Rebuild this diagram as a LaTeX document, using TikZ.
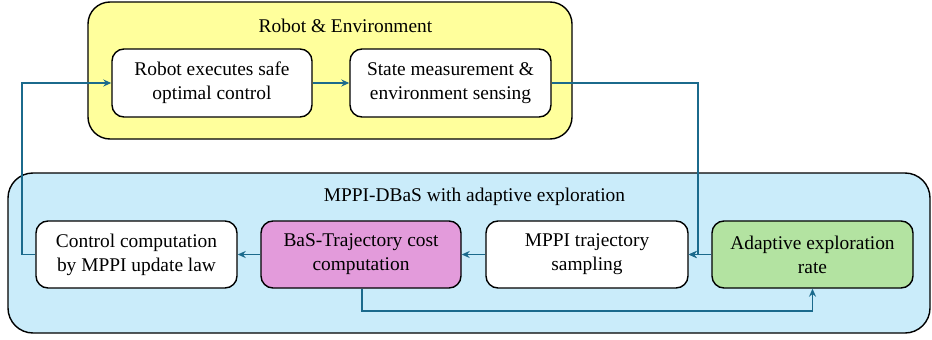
\documentclass[tikz,border=0pt]{standalone}
\usepackage{fontspec}
\setmainfont{Liberation Serif}
\usetikzlibrary{arrows.meta}
\definecolor{envyellow}{HTML}{FFFF9C}
\definecolor{ctrlblue}{HTML}{CAECFA}
\definecolor{costpink}{HTML}{E39BDB}
\definecolor{rategreen}{HTML}{B3E3A1}
\definecolor{flowline}{HTML}{1B6A8C}
\tikzset{
  group/.style={draw=black, line width=1.4pt, rounded corners=22pt, inner sep=0pt},
  block/.style={draw=black, line width=1.4pt, rounded corners=12pt, fill=white,
    minimum width=201pt, minimum height=67pt, align=center, inner sep=0pt,
    font=\fontsize{19.4}{24}\selectfont},
  grouptitle/.style={font=\fontsize{19.4}{24}\selectfont, inner sep=0pt},
  flow/.style={draw=flowline, line width=1.4pt, -{Stealth[length=8pt,width=7pt]}},
}
\begin{document}
\begin{tikzpicture}[x=1pt,y=-1pt]
  \useasboundingbox (0,0) rectangle (932,340);

  % outer groups
  \path[group, fill=envyellow] (88,2) rectangle (572,139);
  \path[group, fill=ctrlblue, rounded corners=25pt] (8,173) rectangle (930,333);
  \node[grouptitle] (envtitle) at (345.5,26) {Robot \& Environment};
  \node[grouptitle] (ctrltitle) at (474.5,197) {MPPI-DBaS with adaptive exploration};

  % robot side
  \node[block, minimum width=200pt, minimum height=68pt] (robot) at (212,83) {Robot executes safe\\optimal control};
  \node[block, minimum height=68pt] (state) at (450.5,83) {State measurement \&\\environment sensing};

  % controller side
  \node[block] (control) at (136.5,254.5) {Control computation\\by MPPI update law};
  \node[block, fill=costpink, minimum width=200pt] (bas) at (361,254.5) {BaS-Trajectory cost\\computation};
  \node[block, minimum width=202pt] (sample) at (587,254.5) {MPPI trajectory\\sampling};
  \node[block, fill=rategreen] (adapt) at (812.5,254.5) {Adaptive exploration\\rate};

  \coordinate (join) at (698,254.5);
  \coordinate (loopleft) at (22,254.5);
  \coordinate (loopbottom) at (362,311);

  % connectors
  \draw[flow] (robot.east) -- (state.west);
  \draw[flow] (state.east) -| (join) -- (sample.east);
  \draw[flow] (adapt.west) -- (sample.east);
  \draw[flow] (sample.west) -- (bas.east);
  \draw[flow] (bas.west) -- (control.east);
  \draw[flow] (control.west) -- (loopleft) |- (robot.west);
  \draw[flow] (bas.south -| loopbottom) -- (loopbottom) -| (adapt.south);
\end{tikzpicture}
\end{document}
